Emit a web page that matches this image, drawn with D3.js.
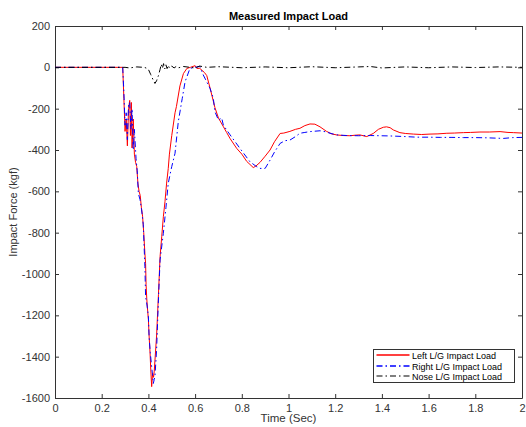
<!DOCTYPE html>
<html>
<head>
<meta charset="utf-8">
<script src="https://cdn.jsdelivr.net/npm/d3@7"></script>
<style>
  html, body { margin: 0; padding: 0; background: #fff; overflow: hidden; }
  svg { display: block; }
  text { font-family: "Liberation Sans", Arial, sans-serif; }
</style>
</head>
<body>
<div class="chart"></div>
<script>
const width = 526;
const height = 427;
const margin = { top: 26, right: 4, bottom: 29, left: 55 };
const innerWidth = width - margin.left - margin.right;
const innerHeight = height - margin.top - margin.bottom;

// values: [time (s), force (kgf)]
const leftLoad = [
  [0, 0], [0.1, 0], [0.2, 0], [0.29, 0], [0.295, -150], [0.3, -310], [0.305, -250],
  [0.31, -380], [0.315, -200], [0.32, -160], [0.323, -330], [0.327, -170], [0.33, -390],
  [0.335, -250], [0.34, -420], [0.345, -460], [0.35, -480], [0.355, -560], [0.36, -600],
  [0.365, -620], [0.37, -680], [0.375, -720], [0.38, -800], [0.385, -900], [0.388, -950],
  [0.39, -1050], [0.393, -1120], [0.397, -1180], [0.4, -1220], [0.403, -1300],
  [0.407, -1380], [0.41, -1460], [0.414, -1545], [0.418, -1480], [0.422, -1500],
  [0.425, -1470], [0.435, -1300], [0.443, -1100], [0.45, -916], [0.457, -820],
  [0.464, -723], [0.471, -650], [0.478, -560], [0.485, -490], [0.49, -420], [0.5, -330],
  [0.514, -220], [0.52, -190], [0.535, -90], [0.55, -30], [0.565, -5], [0.58, 0],
  [0.6, 8], [0.607, -5], [0.62, -5], [0.64, -25], [0.65, -40], [0.664, -100],
  [0.685, -195], [0.7, -245], [0.72, -285], [0.735, -315], [0.75, -345], [0.778, -392],
  [0.8, -420], [0.821, -455], [0.835, -470], [0.849, -485], [0.86, -478], [0.878, -460],
  [0.9, -430], [0.921, -400], [0.94, -360], [0.964, -320], [0.98, -318], [1.006, -310],
  [1.03, -300], [1.049, -295], [1.07, -282], [1.092, -274], [1.113, -275], [1.135, -288],
  [1.163, -310], [1.185, -322], [1.206, -327], [1.235, -330], [1.263, -331], [1.29, -328],
  [1.306, -327], [1.335, -335], [1.363, -320], [1.385, -300], [1.406, -290], [1.42, -288],
  [1.435, -292], [1.449, -303], [1.477, -316], [1.5, -320], [1.535, -323], [1.57, -325],
  [1.606, -323], [1.64, -322], [1.678, -319], [1.71, -318], [1.749, -316], [1.78, -315],
  [1.82, -313], [1.86, -313], [1.906, -311], [1.94, -315], [1.963, -316], [2.0, -318]
];

const rightLoad = [
  [0, 0], [0.1, 0], [0.2, 0], [0.29, 0], [0.295, -120], [0.3, -280], [0.305, -220],
  [0.31, -350], [0.315, -180], [0.32, -170], [0.325, -300], [0.33, -200], [0.335, -400],
  [0.34, -300], [0.347, -440], [0.352, -500], [0.357, -610], [0.364, -640],
  [0.371, -690], [0.378, -760], [0.385, -965], [0.388, -1110], [0.394, -1150],
  [0.4, -1207], [0.403, -1303], [0.408, -1380], [0.414, -1449], [0.417, -1481],
  [0.421, -1530], [0.425, -1510], [0.428, -1497], [0.435, -1368], [0.443, -1126],
  [0.45, -932], [0.464, -803], [0.475, -680], [0.485, -561], [0.5, -480], [0.514, -416],
  [0.528, -263], [0.545, -150], [0.557, -70], [0.578, -5], [0.6, 0], [0.62, 5],
  [0.635, -37], [0.664, -102], [0.678, -150], [0.685, -215], [0.7, -255], [0.714, -245],
  [0.721, -280], [0.75, -327], [0.792, -392], [0.835, -457], [0.864, -481],
  [0.878, -489], [0.9, -489], [0.921, -449], [0.94, -410], [0.964, -368], [0.985, -355],
  [1.006, -352], [1.03, -335], [1.049, -319], [1.07, -315], [1.092, -311], [1.135, -307],
  [1.16, -312], [1.178, -319], [1.206, -327], [1.25, -330], [1.3, -331], [1.35, -330],
  [1.392, -331], [1.435, -332], [1.5, -335], [1.55, -338], [1.6, -338], [1.65, -339],
  [1.7, -339], [1.75, -340], [1.8, -340], [1.85, -341], [1.92, -344], [1.96, -340],
  [2.0, -339]
];

const noseLoad = [
  [0, 0], [0.3, 0], [0.32, -3], [0.35, 2], [0.38, 0], [0.39, -3], [0.4, -10],
  [0.41, -35], [0.42, -60], [0.428, -78], [0.435, -65], [0.443, -40], [0.45, -10],
  [0.455, 15], [0.46, -5], [0.465, 18], [0.47, -8], [0.475, 12], [0.48, -6],
  [0.485, 10], [0.49, -4], [0.5, 6], [0.51, -3], [0.52, 5], [0.53, -2], [0.55, 4],
  [0.6, -3], [0.62, 6], [0.65, 0], [0.7, 3], [0.8, -2], [0.9, 2], [1.0, -2],
  [1.1, 3], [1.2, -2], [1.3, 2], [1.35, 4], [1.4, -3], [1.5, 2], [1.6, -2],
  [1.7, 2], [1.8, -1], [1.9, 2], [2.0, 0]
];

const xTicks = [0, 0.2, 0.4, 0.6, 0.8, 1, 1.2, 1.4, 1.6, 1.8, 2];
const yTicks = [200, 0, -200, -400, -600, -800, -1000, -1200, -1400, -1600];

const seriesNames = ["Left L/G Impact Load", "Right L/G Impact Load", "Nose L/G Impact Load"];
const seriesColors = ["#ff0000", "#0000ff", "#000000"];
const seriesDash = [null, "6,3,1.5,3", "6,3,1.5,3"];

const svg = d3.select(".chart")
  .append("svg")
  .attr("width", width)
  .attr("height", height);

const x = d3.scaleLinear().domain([0, 2]).range([margin.left, margin.left + innerWidth]);
const y = d3.scaleLinear().domain([-1600, 200]).range([margin.top + innerHeight, margin.top]);

const fmt = d => String(d);

// axes with inward ticks, box on all sides
const bottomAxis = d3.axisBottom(x).tickValues(xTicks).tickFormat(fmt).tickSizeInner(-4).tickSizeOuter(0).tickPadding(6);
const topAxis = d3.axisTop(x).tickValues(xTicks).tickSizeInner(-4).tickSizeOuter(0);
const leftAxis = d3.axisLeft(y).tickValues(yTicks).tickFormat(fmt).tickSizeInner(-4).tickSizeOuter(0).tickPadding(5);
const rightAxis = d3.axisRight(y).tickValues(yTicks).tickSizeInner(-4).tickSizeOuter(0);

const axes = [
  [bottomAxis, `translate(0,${margin.top + innerHeight})`, true],
  [topAxis, `translate(0,${margin.top})`, false],
  [leftAxis, `translate(${margin.left},0)`, true],
  [rightAxis, `translate(${margin.left + innerWidth},0)`, false]
];
axes.forEach(([ax, tr, labelled]) => {
  const g = svg.append("g").attr("transform", tr).call(ax);
  g.selectAll("path, line").attr("stroke", "#333").attr("stroke-width", 1);
  if (!labelled) {
    g.selectAll("text").remove();
    return;
  }
  g.selectAll("text").attr("font-size", 11).attr("fill", "#333")
    .style("font-family", "Liberation Sans, Arial, sans-serif");
});

const line = d3.line().x(d => x(d[0])).y(d => y(d[1]));

[leftLoad, rightLoad, noseLoad].forEach((data, i) => {
  svg.append("path")
    .datum(data)
    .attr("d", line)
    .attr("fill", "none")
    .attr("stroke", seriesColors[i])
    .attr("stroke-width", 1)
    .attr("stroke-dasharray", seriesDash[i]);
});

svg.append("text")
  .attr("x", margin.left + innerWidth / 2)
  .attr("y", 20)
  .attr("text-anchor", "middle")
  .attr("font-size", 11)
  .attr("font-weight", "bold")
  .text("Measured Impact Load");

svg.append("text")
  .attr("x", margin.left + innerWidth / 2)
  .attr("y", 422)
  .attr("text-anchor", "middle")
  .attr("font-size", 11.5)
  .attr("fill", "#333")
  .text("Time (Sec)");

svg.append("text")
  .attr("transform", `translate(17,${margin.top + innerHeight / 2}) rotate(-90)`)
  .attr("text-anchor", "middle")
  .attr("font-size", 11)
  .attr("fill", "#333")
  .text("Impact Force (kgf)");

// legend
const legend = svg.append("g").attr("transform", "translate(373.5,349.5)");
legend.append("rect")
  .attr("width", 141).attr("height", 33)
  .attr("fill", "#fff").attr("stroke", "#333").attr("stroke-width", 1);
const legendRows = [5.5, 16.5, 26.5];
seriesNames.forEach((name, i) => {
  const yy = legendRows[i];
  legend.append("line")
    .attr("x1", 3).attr("x2", 36).attr("y1", yy).attr("y2", yy)
    .attr("stroke", i === 2 ? "#555" : seriesColors[i])
    .attr("stroke-width", 1.3)
    .attr("stroke-dasharray", seriesDash[i]);
  legend.append("text")
    .attr("x", 38.5).attr("y", yy + 3.5)
    .attr("font-size", 9)
    .text(name);
});
</script>
</body>
</html>
